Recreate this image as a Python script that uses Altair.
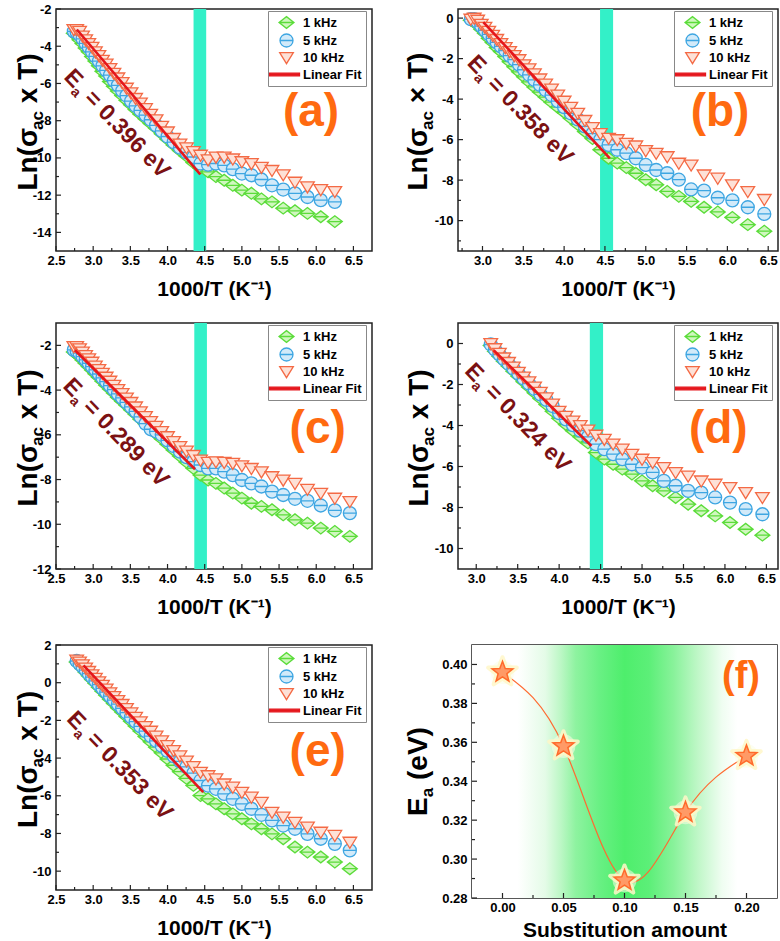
import altair as alt
import pandas as pd

FONT = "Liberation Sans"

# ---------------- data ----------------
inv_T = [2.740, 2.778, 2.817, 2.857, 2.899, 2.941, 2.985, 3.030, 3.077, 3.125,
         3.175, 3.226, 3.279, 3.333, 3.390, 3.448, 3.509, 3.571, 3.636, 3.704,
         3.774, 3.846, 3.922, 4.000, 4.082, 4.167, 4.255, 4.348, 4.444, 4.545,
         4.651, 4.762, 4.878, 5.000, 5.128, 5.263, 5.405, 5.556, 5.714, 5.882,
         6.061, 6.250, 6.452]

series = ["1 kHz", "5 kHz", "10 kHz", "Linear Fit"]

# panel (a)
a_x = inv_T[0:42]
a_1k = [-3.30, -3.45, -3.65, -3.85, -4.10, -4.30, -4.55, -4.80, -5.05, -5.35,
        -5.60, -5.90, -6.15, -6.40, -6.65, -6.90, -7.15, -7.40, -7.65, -7.90,
        -8.15, -8.40, -8.70, -9.00, -9.30, -9.60, -9.90, -10.25, -10.55, -10.75,
        -11.00, -11.20, -11.47, -11.73, -11.90, -12.20, -12.36, -12.70, -12.84, -12.98,
        -13.16, -13.42]
a_5k = [-3.20, -3.25, -3.40, -3.60, -3.85, -4.05, -4.30, -4.55, -4.80, -5.05,
        -5.30, -5.55, -5.85, -6.10, -6.40, -6.65, -6.95, -7.20, -7.45, -7.70,
        -7.95, -8.25, -8.55, -8.85, -9.15, -9.45, -9.70, -9.95, -10.30, -10.36,
        -10.30, -10.40, -10.60, -10.84, -10.93, -11.16, -11.47, -11.70, -11.90, -12.10,
        -12.27, -12.36]
a_10k = [-3.10, -3.10, -3.20, -3.45, -3.65, -3.85, -4.05, -4.30, -4.50, -4.75,
         -4.95, -5.20, -5.45, -5.70, -5.95, -6.25, -6.50, -6.80, -7.05, -7.35,
         -7.65, -7.95, -8.30, -8.60, -8.95, -9.25, -9.45, -9.65, -9.85, -10.10,
         -9.95, -9.95, -10.05, -10.20, -10.30, -10.50, -10.67, -10.90, -11.30, -11.55,
         -11.70, -11.80]
a_fit_x = [2.78, 4.44]
a_fit_y = [-3.10, -10.88]

# panel (b)
b_x = inv_T[3:43]
b_1k = [-0.10, -0.15, -0.35, -0.55, -0.75, -1.00, -1.20, -1.45, -1.65, -1.90,
        -2.15, -2.40, -2.65, -2.90, -3.15, -3.40, -3.65, -3.90, -4.15, -4.40,
        -4.65, -4.95, -5.25, -5.60, -5.95, -6.50, -6.92, -7.16, -7.38, -7.66,
        -7.98, -8.23, -8.56, -8.80, -9.05, -9.34, -9.57, -9.84, -10.20, -10.52]
b_5k = [-0.05, -0.05, -0.20, -0.40, -0.60, -0.80, -1.00, -1.20, -1.40, -1.60,
        -1.85, -2.05, -2.30, -2.55, -2.80, -3.05, -3.30, -3.55, -3.80, -4.10,
        -4.40, -4.70, -5.00, -5.35, -5.70, -6.00, -6.26, -6.50, -6.67, -6.92,
        -7.25, -7.50, -7.66, -7.98, -8.46, -8.52, -8.87, -9.00, -9.34, -9.67]
b_10k = [-0.05, 0.00, -0.10, -0.30, -0.45, -0.65, -0.85, -1.05, -1.25, -1.45,
         -1.65, -1.85, -2.05, -2.30, -2.50, -2.75, -3.00, -3.25, -3.50, -3.80,
         -4.10, -4.40, -4.70, -5.05, -5.40, -5.70, -5.93, -6.00, -6.18, -6.31,
         -6.54, -6.67, -6.84, -7.16, -7.25, -7.74, -7.90, -8.23, -8.56, -8.95]
b_fit_x = [3.01, 4.56]
b_fit_y = [-0.20, -6.93]

# panel (c)
c_x = inv_T[0:43]
c_1k = [-2.30, -2.40, -2.50, -2.65, -2.80, -2.95, -3.10, -3.27, -3.43, -3.60,
        -3.78, -3.95, -4.13, -4.32, -4.50, -4.68, -4.88, -5.08, -5.30, -5.50,
        -5.72, -5.95, -6.18, -6.42, -6.68, -6.95, -7.22, -7.50, -7.80, -8.02,
        -8.17, -8.38, -8.61, -8.83, -9.06, -9.20, -9.35, -9.58, -9.80, -9.95,
        -10.17, -10.32, -10.54]
c_5k = [-2.20, -2.25, -2.35, -2.50, -2.65, -2.80, -2.95, -3.10, -3.28, -3.45,
        -3.62, -3.80, -3.98, -4.17, -4.35, -4.55, -4.75, -4.95, -5.20, -5.50,
        -5.75, -5.85, -6.00, -6.25, -6.50, -6.75, -7.00, -7.20, -7.35, -7.50,
        -7.50, -7.65, -7.80, -8.02, -8.17, -8.31, -8.54, -8.69, -8.86, -8.95,
        -9.16, -9.38, -9.50]
c_10k = [-2.05, -2.05, -2.15, -2.30, -2.45, -2.60, -2.75, -2.92, -3.08, -3.25,
         -3.42, -3.60, -3.78, -3.97, -4.15, -4.35, -4.55, -4.75, -4.97, -5.18,
         -5.40, -5.62, -5.85, -6.08, -6.30, -6.52, -6.72, -6.92, -7.13, -7.23,
         -7.20, -7.23, -7.27, -7.38, -7.50, -7.65, -7.87, -8.02, -8.17, -8.43,
         -8.61, -8.83, -8.98]
c_fit_x = [2.755, 4.37]
c_fit_y = [-2.22, -7.54]

# panel (d)
d_x = inv_T[10:43]
d_1k = [-0.10, -0.38, -0.62, -0.86, -1.10, -1.35, -1.60, -1.86, -2.12, -2.40,
        -2.68, -2.98, -3.30, -3.65, -3.95, -4.25, -4.55, -4.85, -5.32, -5.64,
        -5.89, -6.13, -6.37, -6.70, -6.94, -7.19, -7.51, -7.84, -8.16, -8.41,
        -8.73, -9.06, -9.35]
d_5k = [-0.05, -0.30, -0.53, -0.76, -0.99, -1.22, -1.47, -1.71, -1.96, -2.22,
        -2.48, -2.75, -3.05, -3.40, -3.70, -3.98, -4.25, -4.55, -4.91, -5.15,
        -5.40, -5.64, -5.89, -6.05, -6.29, -6.70, -6.94, -7.19, -7.27, -7.51,
        -7.76, -8.08, -8.33]
d_10k = [0.00, -0.25, -0.48, -0.70, -0.92, -1.15, -1.40, -1.63, -1.87, -2.12,
         -2.38, -2.65, -2.95, -3.30, -3.55, -3.78, -4.00, -4.22, -4.47, -4.67,
         -4.90, -5.15, -5.40, -5.64, -5.80, -6.05, -6.29, -6.46, -6.70, -6.86,
         -7.02, -7.27, -7.51]
d_fit_x = [3.21, 4.39]
d_fit_y = [-0.33, -5.00]

# panel (e)
e_x = inv_T[1:43]
e_1k = [1.10, 0.92, 0.75, 0.56, 0.37, 0.17, -0.03, -0.24, -0.45, -0.66,
        -0.88, -1.10, -1.33, -1.56, -1.80, -2.05, -2.30, -2.56, -2.86, -3.14,
        -3.42, -3.72, -4.05, -4.38, -4.72, -5.08, -5.45, -5.99, -6.16, -6.43,
        -6.69, -6.96, -7.22, -7.49, -7.75, -8.02, -8.28, -8.72, -8.99, -9.25,
        -9.52, -9.87]
e_5k = [1.15, 1.00, 0.85, 0.67, 0.48, 0.30, 0.10, -0.10, -0.30, -0.50,
        -0.71, -0.92, -1.14, -1.36, -1.59, -1.83, -2.07, -2.32, -2.57, -2.83,
        -3.09, -3.35, -3.62, -3.90, -4.18, -4.47, -4.80, -5.19, -5.46, -5.63,
        -5.90, -6.16, -6.43, -6.69, -7.01, -7.31, -7.58, -7.75, -8.02, -8.28,
        -8.55, -8.90]
e_10k = [1.20, 1.10, 0.95, 0.78, 0.60, 0.42, 0.24, 0.05, -0.14, -0.33,
         -0.53, -0.73, -0.94, -1.15, -1.37, -1.60, -1.83, -2.07, -2.32, -2.57,
         -2.83, -3.08, -3.33, -3.60, -3.88, -4.15, -4.45, -4.75, -4.93, -5.10,
         -5.37, -5.54, -5.81, -6.07, -6.34, -6.87, -7.13, -7.40, -7.66, -7.93,
         -8.10, -8.46]
e_fit_x = [2.87, 4.48]
e_fit_y = [0.92, -5.81]

# panel (f)
f_sub = [0.00, 0.05, 0.10, 0.15, 0.20]
f_ea = [0.396, 0.358, 0.289, 0.324, 0.353]

# annotations
ea_labels = ["= 0.396 eV", "= 0.358 eV", "= 0.289 eV", "= 0.324 eV", "= 0.353 eV"]
bands = [[4.35, 4.52], [4.44, 4.60], [4.36, 4.53], [4.37, 4.53]]

# ---------------- style ----------------
STROKES = ["#5BDC3A", "#3EA6E2", "#F46A45", "#E5161C"]
FILLS = ["#CFF7BE", "#D2EAF9", "#FDE1D7", "#E5161C"]
DIAMOND = "M-1.15,0L0,-0.9L1.15,0L0,0.9ZM-1.15,0L1.15,0"
CIRCLE = ("M-1,0C-1,-0.552,-0.552,-1,0,-1C0.552,-1,1,-0.552,1,0"
          "C1,0.552,0.552,1,0,1C-0.552,1,-1,0.552,-1,0ZM-1,0L1,0")
TRI = "M-1.05,-0.75L1.05,-0.75L0,0.95Z"
LINE = "M-2.6,-0.2L2.0,-0.2L2.0,0.2L-2.6,0.2Z"
SHAPES = [DIAMOND, CIRCLE, TRI, LINE]
STAR = ("M0,-1L0.247,-0.34L0.951,-0.309L0.399,0.13L0.588,0.809L0,0.42"
        "L-0.588,0.809L-0.399,0.13L-0.951,-0.309L-0.247,-0.34Z")
CYAN = "#33F0C8"
EA_COLOR = "#7B1113"
ORANGE = "#FF6A10"
FRAME = "#222222"


def legend(W):
    return alt.Legend(title=None, orient="none", legendX=W - 104, legendY=2, strokeColor="#888888",
                      fillColor="white", padding=4, symbolSize=169, symbolStrokeWidth=1.3,
                      symbolOffset=7, labelOffset=9, labelFont=FONT, labelFontSize=13,
                      labelFontWeight="bold", labelColor="black", rowPadding=0)


def ticks_layers(xsc, ysc, xax, yax, xt, xm, yt, ym, H):
    out = []
    for vals, ln in ((xt, 5), (xm, 3)):
        out.append(alt.Chart(pd.DataFrame({"t": vals})).mark_rule(color=FRAME, strokeWidth=1.2)
                   .encode(x=alt.X("t:Q", scale=xsc, axis=xax), y=alt.value(H), y2=alt.value(H - ln)))
    for vals, ln in ((yt, 5), (ym, 3)):
        out.append(alt.Chart(pd.DataFrame({"t": vals})).mark_rule(color=FRAME, strokeWidth=1.2)
                   .encode(y=alt.Y("t:Q", scale=ysc, axis=yax), x=alt.value(0), x2=alt.value(ln)))
    return out


def ytitle(pieces, tx, ty):
    out = []
    for txt, size, dx, dy in pieces:
        out.append(alt.Chart(pd.DataFrame({"t": [txt]})).mark_text(
            angle=270, align="left", baseline="alphabetic", font=FONT, fontWeight="bold",
            fontSize=size, dx=dx, dy=dy, color="black").encode(
            x=alt.value(tx), y=alt.value(ty), text="t:N"))
    return out


def panel(xs, y1, y5, y10, fx, fy, band, xdom, ydom, xt, xm, yt, ym, W, H,
          ea_xy, ea_txt, let_xy, letter, tx, times):
    xsc = alt.Scale(domain=xdom, nice=False, zero=False)
    ysc = alt.Scale(domain=ydom, nice=False, zero=False)
    xax = alt.Axis(values=xt, format=".1f", title="1000/T (K⁻¹)")
    yax = alt.Axis(values=yt, labelExpr="datum.value + ''", title=None)
    X = lambda f: alt.X(f, scale=xsc, axis=xax)
    Y = lambda f: alt.Y(f, scale=ysc, axis=yax)
    pts = pd.DataFrame({
        "x": list(xs) * 3,
        "y": list(y1) + list(y5) + list(y10),
        "s": [series[0]] * len(xs) + [series[1]] * len(xs) + [series[2]] * len(xs),
    })
    layers = []
    if band is not None:
        layers.append(alt.Chart(pd.DataFrame({"b0": [band[0]], "b1": [band[1]]}))
                      .mark_rect(color=CYAN)
                      .encode(x=X("b0:Q"), x2="b1:Q", y=alt.value(0), y2=alt.value(H)))
    leg = legend(W)
    layers.append(alt.Chart(pts).mark_point(filled=True, opacity=1, size=169, strokeWidth=1.3).encode(
        x=X("x:Q"), y=Y("y:Q"),
        fill=alt.Fill("s:N", scale=alt.Scale(domain=series, range=FILLS), legend=leg),
        stroke=alt.Stroke("s:N", scale=alt.Scale(domain=series, range=STROKES), legend=leg),
        shape=alt.Shape("s:N", scale=alt.Scale(domain=series, range=SHAPES), legend=leg),
    ))
    layers.append(alt.Chart(pd.DataFrame({"x": fx, "y": fy, "s": [series[3]] * 2}))
                  .mark_line(strokeWidth=2.6)
                  .encode(x=X("x:Q"), y=Y("y:Q"),
                          stroke=alt.Stroke("s:N", scale=alt.Scale(domain=series, range=STROKES), legend=None)))
    layers += ticks_layers(xsc, ysc, xax, yax, xt, xm, yt, ym, H)
    for txt, size, dx, dy in (("E", 23, 0, 0), ("a", 14, 15.3, 5), (ea_txt, 23, 29, 0)):
        layers.append(alt.Chart(pd.DataFrame({"x": [ea_xy[0]], "y": [ea_xy[1]], "t": [txt]}))
                      .mark_text(angle=46, align="left", baseline="alphabetic", font=FONT,
                                 fontWeight="bold", fontSize=size, dx=dx, dy=dy, color=EA_COLOR)
                      .encode(x=X("x:Q"), y=Y("y:Q"), text="t:N"))
    layers.append(alt.Chart(pd.DataFrame({"x": [let_xy[0]], "y": [let_xy[1]], "t": [letter]}))
                  .mark_text(align="center", baseline="middle", font=FONT, fontWeight="bold",
                             fontSize=46, color=ORANGE)
                  .encode(x=X("x:Q"), y=Y("y:Q"), text="t:N"))
    layers += ytitle([("Ln(σ", 28, -68.5, 0), ("ac", 17, -7.9, 6), (times + " T)", 28, 18.8, 0)],
                     tx, H / 2 - 8)
    return alt.layer(*layers).properties(width=W, height=H)


pa = panel(a_x, a_1k, a_5k, a_10k, a_fit_x, a_fit_y, bands[0], [2.5, 6.75], [-15, -2],
           [2.5, 3.0, 3.5, 4.0, 4.5, 5.0, 5.5, 6.0, 6.5], [2.75, 3.25, 3.75, 4.25, 4.75, 5.25, 5.75, 6.25],
           [-14, -12, -10, -8, -6, -4, -2], [-13, -11, -9, -7, -5, -3], 316, 242,
           (2.594, -5.71), ea_labels[0], (5.93, -7.55), "(a)", -19, "x")
pb = panel(b_x, b_1k, b_5k, b_10k, b_fit_x, b_fit_y, bands[1], [2.7, 6.62], [-11.5, 0.45],
           [3.0, 3.5, 4.0, 4.5, 5.0, 5.5, 6.0, 6.5], [2.75, 3.25, 3.75, 4.25, 4.75, 5.25, 5.75, 6.25],
           [-10, -8, -6, -4, -2, 0], [-11, -9, -7, -5, -3, -1], 320, 242,
           (2.80, -2.27), ea_labels[1], (5.91, -4.62), "(b)", -31, "×")
pc = panel(c_x, c_1k, c_5k, c_10k, c_fit_x, c_fit_y, bands[2], [2.5, 6.75], [-12, -1],
           [2.5, 3.0, 3.5, 4.0, 4.5, 5.0, 5.5, 6.0, 6.5], [2.75, 3.25, 3.75, 4.25, 4.75, 5.25, 5.75, 6.25],
           [-12, -10, -8, -6, -4, -2], [-11, -9, -7, -5, -3], 316, 246,
           (2.58, -3.86), ea_labels[2], (6.02, -5.74), "(c)", -19, "x")
pd_ = panel(d_x, d_1k, d_5k, d_10k, d_fit_x, d_fit_y, bands[3], [2.78, 6.64], [-11, 1],
            [3.0, 3.5, 4.0, 4.5, 5.0, 5.5, 6.0, 6.5], [3.25, 3.75, 4.25, 4.75, 5.25, 5.75, 6.25],
            [-10, -8, -6, -4, -2, 0], [-9, -7, -5, -3, -1], 320, 246,
            (2.85, -1.39), ea_labels[3], (5.92, -4.17), "(d)", -30, "x")
pe = panel(e_x, e_1k, e_5k, e_10k, e_fit_x, e_fit_y, None, [2.5, 6.75], [-11, 2],
           [2.5, 3.0, 3.5, 4.0, 4.5, 5.0, 5.5, 6.0, 6.5], [2.75, 3.25, 3.75, 4.25, 4.75, 5.25, 5.75, 6.25],
           [-10, -8, -6, -4, -2, 0, 2], [-9, -7, -5, -3, -1, 1], 316, 245,
           (2.63, -1.98), ea_labels[4], (6.02, -3.68), "(e)", -19, "x")

# ---------------- panel (f) ----------------
FW, FH = 305, 253
fxs = alt.Scale(domain=[-0.025, 0.225], nice=False, zero=False)
fys = alt.Scale(domain=[0.28, 0.41], nice=False, zero=False)
f_xt = [0.0, 0.05, 0.10, 0.15, 0.20]
f_yt = [0.28, 0.30, 0.32, 0.34, 0.36, 0.38, 0.40]
fxax = alt.Axis(values=f_xt, format=".2f", title="Substitution amount", titlePadding=5)
fyax = alt.Axis(values=f_yt, format=".2f", title=None)
FX = lambda f: alt.X(f, scale=fxs, axis=fxax)
FY = lambda f: alt.Y(f, scale=fys, axis=fyax)
fdf = pd.DataFrame({"x": f_sub, "y": f_ea})
grad = alt.LinearGradient(gradient="linear", x1=0, x2=1, y1=0, y2=0, stops=[
    alt.GradientStop(color="#FFFFFF", offset=0.0),
    alt.GradientStop(color="#FFFFFF", offset=0.15),
    alt.GradientStop(color="#E4FBE7", offset=0.24),
    alt.GradientStop(color="#BDF7C6", offset=0.29),
    alt.GradientStop(color="#8EF3A0", offset=0.34),
    alt.GradientStop(color="#68F083", offset=0.42),
    alt.GradientStop(color="#4EEE6C", offset=0.50),
    alt.GradientStop(color="#5CEF78", offset=0.58),
    alt.GradientStop(color="#88F29A", offset=0.66),
    alt.GradientStop(color="#BFF7C7", offset=0.74),
    alt.GradientStop(color="#EFFDF1", offset=0.82),
    alt.GradientStop(color="#FFFFFF", offset=0.87),
    alt.GradientStop(color="#FFFFFF", offset=1.0),
])
f_layers = [
    alt.Chart(pd.DataFrame({"a": [0]})).mark_rect(fill=grad, strokeWidth=0)
    .encode(x=alt.value(0), x2=alt.value(FW), y=alt.value(0), y2=alt.value(FH)),
    alt.Chart(fdf).mark_line(interpolate="natural", color="#FF6A30", strokeWidth=1.2)
    .encode(x=FX("x:Q"), y=FY("y:Q")),
    alt.Chart(fdf).mark_point(shape="circle", filled=True, size=560, color="#FAFDE6", opacity=0.55)
    .encode(x=FX("x:Q"), y=FY("y:Q")),
    alt.Chart(fdf).mark_point(shape=STAR, filled=True, size=900, fill="#FFF7C8", stroke="#FFF7C8",
                              strokeWidth=4, opacity=0.85, strokeJoin="round")
    .encode(x=FX("x:Q"), y=FY("y:Q")),
    alt.Chart(fdf).mark_point(shape=STAR, filled=True, size=480, fill="#FF9A66", stroke="#FF6A2A",
                              strokeWidth=1.5, opacity=1)
    .encode(x=FX("x:Q"), y=FY("y:Q")),
]
f_layers += ticks_layers(fxs, fys, fxax, fyax, f_xt, [0.025, 0.075, 0.125, 0.175],
                         f_yt, [0.29, 0.31, 0.33, 0.35, 0.37, 0.39], FH)
f_layers.append(alt.Chart(pd.DataFrame({"x": [0.1955], "y": [0.3936], "t": ["(f)"]}))
                .mark_text(align="center", baseline="middle", font=FONT, fontWeight="bold",
                           fontSize=38, color=ORANGE)
                .encode(x=FX("x:Q"), y=FY("y:Q"), text="t:N"))
f_layers += ytitle([("E", 28, -44.5, 0), ("a", 17, -25.8, 6), ("(eV)", 28, -8.5, 0)], -45, FH / 2)
pf = alt.layer(*f_layers).properties(width=FW, height=FH)

RES = dict(fill="independent", stroke="independent", shape="independent")


def row(l, r, sp):
    return alt.hconcat(l, r, spacing=sp, bounds="flush").resolve_scale(**RES).resolve_legend(**RES)


top2 = alt.vconcat(row(pa, pb, 86), row(pc, pd_, 86), spacing=22).resolve_scale(**RES).resolve_legend(**RES)
chart = (alt.vconcat(top2, row(pe, pf, 100), spacing=20)
         .resolve_scale(**RES).resolve_legend(**RES)
         .properties(padding={"left": 14, "top": 2, "right": 0, "bottom": 0})
         .configure_view(stroke=FRAME, strokeWidth=1.5)
         .configure_axis(labelFont=FONT, labelFontSize=13, labelFontWeight="bold", labelColor="black",
                         titleFont=FONT, titleFontSize=21, titleFontWeight="bold", titleColor="black",
                         grid=False, domain=False, ticks=False, tickSize=0, labelPadding=5,
                         labelFlush=False)
         .configure_axisX(labelPadding=3, titlePadding=11))

chart.save("out.html", embed_options={"renderer": "svg", "actions": False})
